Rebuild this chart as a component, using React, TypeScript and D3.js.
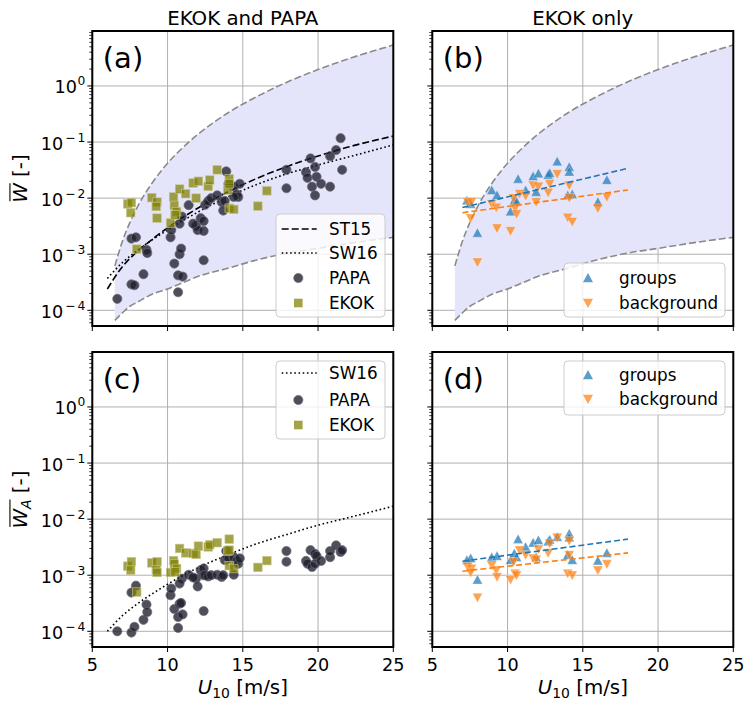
import React from 'react';
import * as d3 from 'd3';

// ---------- data ----------
const xTicks = [5, 10, 15, 20, 25];
const yMajorTicks = [1e-4, 1e-3, 1e-2, 1e-1, 1];
const yTickExponents = ['\u22124', '\u22123', '\u22122', '\u22121', '0'];
const xDomain = [5, 25];
const yDomain = [5.25e-5, 9.55];

// envelope (shaded region) boundaries
const boundU = [6.5, 7, 7.5, 8, 9, 10, 11, 12, 14, 16, 18, 20, 22, 25];
const boundUpper = [6.2e-4, 1.7e-3, 3.7e-3, 7.0e-3, 0.019, 0.042, 0.079, 0.136, 0.33, 0.66, 1.19, 1.96, 3.04, 5.37];
const boundLower = [6.6e-5, 9.0e-5, 1.18e-4, 1.4e-4, 1.95e-4, 2.4e-4, 3.1e-4, 4.0e-4, 5.6e-4, 8.0e-4, 1.05e-3, 1.27e-3, 1.55e-3, 2.0e-3];

// parameterisations
const st15U = [6, 7, 8, 9, 10, 12, 14, 16, 18, 20, 22, 25];
const st15W = [2.4e-4, 6.0e-4, 1.12e-3, 1.86e-3, 2.95e-3, 6.6e-3, 0.0129, 0.0229, 0.0372, 0.0562, 0.0813, 0.128];
const sw16U = [6, 7, 8, 9, 10, 12, 14, 16, 18, 20, 22, 25];
const sw16W = [3.7e-4, 7.1e-4, 1.17e-3, 1.82e-3, 2.7e-3, 5.6e-3, 0.0105, 0.0178, 0.0275, 0.039, 0.054, 0.089];
const sw16AU = [6, 7, 8, 9, 10, 12, 14, 16, 18, 20, 22, 25];
const sw16WA = [1.0e-4, 1.9e-4, 3.1e-4, 4.7e-4, 6.9e-4, 1.35e-3, 2.3e-3, 3.7e-3, 5.4e-3, 7.8e-3, 1.06e-2, 1.7e-2];

// PAPA
const papaU = [6.66, 7.6, 7.9, 7.6, 7.8, 8.4, 8.6, 8.65, 10.2, 10.25, 10.45, 10.7, 11.0, 10.7, 10.8, 10.9, 10.95, 10.8, 11.4, 11.9, 12.0, 11.7, 12.2, 12.4, 12.4, 12.4, 12.5, 12.7, 12.9, 13.3, 13.6, 13.7, 13.9, 13.8, 14.05, 14.4, 14.6, 14.7, 14.4, 14.8, 17.9, 17.9, 19.2, 19.3, 19.5, 19.6, 19.8, 19.9, 19.8, 20.2, 20.8, 20.8, 21.2, 21.5, 21.6];
const papaW = [1.6e-4, 1.9e-3, 2.0e-3, 2.9e-4, 2.8e-4, 4.4e-4, 1.2e-3, 1.05e-3, 2.0e-3, 2.7e-3, 6.8e-4, 4.2e-4, 4.0e-4, 2.1e-4, 1.0e-3, 1.26e-3, 4.7e-3, 3.5e-3, 7.5e-3, 3.2e-3, 2.7e-3, 3.5e-3, 4.4e-3, 3.9e-3, 2.6e-3, 7.8e-4, 7.6e-3, 8.9e-3, 1.0e-2, 1.12e-2, 8.5e-3, 6.0e-3, 3.0e-2, 8.9e-3, 1.8e-2, 1.6e-2, 1.17e-2, 1.05e-2, 1.05e-2, 1.8e-2, 3.2e-2, 1.5e-2, 2.9e-2, 2.3e-2, 5.1e-2, 1.6e-2, 3.6e-2, 2.4e-2, 1.12e-2, 1.8e-2, 1.6e-2, 5.6e-2, 7.2e-2, 0.117, 3.2e-2];
const papaWA = [1.0e-4, 4.9e-4, 6.5e-4, 9.5e-5, 1.2e-4, 1.6e-4, 3.0e-4, 2.2e-4, 4.4e-4, 5.8e-4, 2.5e-4, 1.8e-4, 2.0e-4, 1.15e-4, 3.1e-4, 3.2e-4, 8.7e-4, 7.1e-4, 1.02e-3, 8.7e-4, 6.3e-4, 9.1e-4, 1.23e-3, 1.32e-3, 1.0e-3, 2.3e-4, 1.0e-3, 9.5e-4, 1.0e-3, 1.02e-3, 9.3e-4, 1.0e-3, 2.7e-3, 1.86e-3, 2.0e-3, 2.1e-3, 1.8e-3, 1.6e-3, 1.02e-3, 2.0e-3, 2.7e-3, 1.74e-3, 1.8e-3, 1.6e-3, 2.8e-3, 1.4e-3, 2.4e-3, 2.2e-3, 1.6e-3, 1.8e-3, 2.1e-3, 2.7e-3, 3.4e-3, 2.6e-3, 2.8e-3];

// EKOK
const ekokU = [7.35, 7.6, 7.55, 7.95, 8.95, 9.3, 9.25, 9.3, 10.2, 10.4, 10.45, 10.6, 10.5, 10.8, 11.2, 11.7, 12.05, 11.9, 12.7, 12.8, 13.3, 14.0, 14.1, 14.1, 14.1, 14.4, 16.0, 16.6];
const ekokW = [7.9e-3, 8.3e-3, 5.5e-3, 1.23e-3, 1.02e-2, 8.5e-3, 7.1e-3, 4.4e-3, 3.6e-3, 1.05e-2, 7.4e-3, 5.75e-3, 5.0e-3, 1.45e-2, 1.2e-2, 1.86e-2, 2.0e-2, 1.0e-2, 1.62e-2, 2.1e-2, 3.2e-2, 1.4e-2, 2.2e-2, 1.8e-2, 6.6e-3, 6.3e-3, 7.2e-3, 1.35e-2];
const ekokWA = [1.45e-3, 1.74e-3, 1.23e-3, 5.0e-4, 1.66e-3, 1.74e-3, 1.26e-3, 1.12e-3, 1.12e-3, 1.82e-3, 1.58e-3, 1.32e-3, 1.15e-3, 3.0e-3, 2.5e-3, 2.45e-3, 3.3e-3, 2.35e-3, 3.2e-3, 3.5e-3, 3.8e-3, 2.7e-3, 4.4e-3, 2.8e-3, 1.48e-3, 1.32e-3, 1.38e-3, 1.82e-3];

// EKOK groups / background
const groupsU = [7.3, 7.55, 8.0, 8.95, 9.3, 10.2, 10.45, 10.7, 10.6, 11.2, 11.7, 12.05, 11.9, 12.7, 12.8, 13.3, 14.1, 14.1, 14.0, 14.3, 16.0, 16.6];
const groupsW = [9.1e-3, 7.9e-3, 2.4e-3, 1.38e-2, 1.12e-2, 5.75e-3, 9.1e-3, 2.2e-2, 8.7e-3, 1.38e-2, 2.45e-2, 2.75e-2, 1.29e-2, 2.6e-2, 2.8e-2, 4.5e-2, 3.6e-2, 2.95e-2, 1.12e-2, 1.17e-2, 8.5e-3, 2.1e-2];
const groupsWA = [1.86e-3, 2.0e-3, 8.3e-4, 2.1e-3, 2.2e-3, 1.86e-3, 2.45e-3, 4.4e-3, 2.1e-3, 3.2e-3, 3.8e-3, 4.2e-3, 2.1e-3, 4.0e-3, 4.3e-3, 4.8e-3, 5.5e-3, 4.7e-3, 2.3e-3, 1.86e-3, 1.82e-3, 2.5e-3];
const bgU = [7.35, 7.6, 7.55, 8.0, 8.95, 9.25, 9.3, 10.2, 10.4, 10.5, 10.6, 10.8, 11.2, 11.7, 12.05, 11.9, 12.7, 12.8, 13.3, 14.0, 14.3, 14.1, 14.1, 16.0, 16.6];
const bgW = [8.5e-3, 8.5e-3, 4.4e-3, 7.2e-4, 7.9e-3, 6.8e-3, 2.9e-3, 2.6e-3, 1.0e-2, 6.6e-3, 5.2e-3, 1.2e-2, 1.1e-2, 1.7e-2, 1.62e-2, 8.5e-3, 1.26e-2, 1.8e-2, 2.7e-2, 4.5e-3, 3.8e-3, 1.02e-2, 1.7e-2, 6.6e-3, 1.05e-2];
const bgWA = [1.41e-3, 1.32e-3, 1.12e-3, 4.0e-4, 1.51e-3, 1.23e-3, 9.3e-4, 8.3e-4, 1.74e-3, 1.07e-3, 1.0e-3, 2.8e-3, 2.3e-3, 2.0e-3, 2.9e-3, 1.9e-3, 2.5e-3, 3.7e-3, 4.7e-3, 1.07e-3, 1.0e-3, 2.3e-3, 4.1e-3, 1.23e-3, 1.58e-3];

// linear fits (log W vs U)
const fitU = [7.0, 18.0];
const groupsFitW = [6.8e-3, 3.4e-2];
const bgFitW = [5.5e-3, 1.4e-2];
const groupsFitWA = [1.78e-3, 4.4e-3];
const bgFitWA = [1.18e-3, 2.5e-3];

// ---------- styling ----------
const FONT = 'DejaVu Sans, sans-serif';
const PW = 301;
const PH = 295;
const PX = [92.3, 432.3];
const PY = [31, 352];
const BLUE = '#1f77b4';
const ORANGE = '#ff7f0e';
const FILLC = '#e4e4fb';
const TICKFS = 17.6;
const LABELFS = 19.8;
const SUBFS = 13.9;
const LEGFS = 16.8;

const zip = (a: number[], b: number[]) => a.map((v, i) => [v, b[i]] as [number, number]);

function triUp(s: number) {
  return `M0,${-s}L${s},${s * 0.85}L${-s},${s * 0.85}Z`;
}
function triDown(s: number) {
  return `M0,${s}L${s},${-s * 0.85}L${-s},${-s * 0.85}Z`;
}

type PanelProps = {
  px: number; py: number; label: string; id: string;
  showYLabels: boolean; showXLabels: boolean;
  children: (x: d3.ScaleLinear<number, number>, y: d3.ScaleLogarithmic<number, number>) => React.ReactNode;
};

function Panel({ px, py, label, id, showYLabels, showXLabels, children }: PanelProps) {
  const x = d3.scaleLinear().domain(xDomain).range([0, PW]);
  const y = d3.scaleLog().domain(yDomain).range([PH, 0]);
  const allY = y.ticks();
  const isMajor = (v: number) => Math.abs(Math.log10(v) - Math.round(Math.log10(v))) < 1e-9;
  return (
    <g transform={`translate(${px},${py})`}>
      <defs>
        <clipPath id={id}><rect x={0} y={0} width={PW} height={PH} /></clipPath>
      </defs>
      {xTicks.map((t) => (
        <line key={'gx' + t} x1={x(t)} x2={x(t)} y1={0} y2={PH} stroke="#b0b0b0" strokeWidth={1} />
      ))}
      {yMajorTicks.map((t) => (
        <line key={'gy' + t} x1={0} x2={PW} y1={y(t)} y2={y(t)} stroke="#b0b0b0" strokeWidth={1} />
      ))}
      <g clipPath={`url(#${id})`}>{children(x, y)}</g>
      <text x={10.5} y={37} fontSize={29} fontFamily={FONT} fill="#000">{label}</text>
      {allY.map((t, i) => (
        <line key={'yt' + i} x1={0} x2={isMajor(t) ? -5 : -3} y1={y(t)} y2={y(t)} stroke="#000" strokeWidth={isMajor(t) ? 1 : 0.8} />
      ))}
      {showYLabels && yMajorTicks.map((t, i) => (
        <text key={'yl' + i} x={-7} y={y(t) + 7.5} textAnchor="end" fontFamily={FONT} fontSize={TICKFS} fill="#000">
          10<tspan dy={-8} dx={yTickExponents[i].length > 1 ? 2 : 0.5} fontSize={12.3}>{yTickExponents[i].length > 1 ? yTickExponents[i][0] : yTickExponents[i]}</tspan>
          {yTickExponents[i].length > 1 && <tspan dx={2} fontSize={12.3}>{yTickExponents[i].slice(1)}</tspan>}
        </text>
      ))}
      {xTicks.map((t) => (
        <line key={'xt' + t} x1={x(t)} x2={x(t)} y1={PH} y2={PH + 5} stroke="#000" strokeWidth={1} />
      ))}
      {showXLabels && xTicks.map((t) => (
        <text key={'xl' + t} x={x(t)} y={PH + 24} textAnchor="middle" fontFamily={FONT} fontSize={TICKFS} fill="#000">{t}</text>
      ))}
      {showXLabels && (
        <text x={PW / 2} y={PH + 47} textAnchor="middle" fontFamily={FONT} fontSize={LABELFS} fill="#000">
          <tspan fontStyle="italic">U</tspan><tspan fontSize={SUBFS} dy={4}>10</tspan><tspan dy={-4}> [m/s]</tspan>
        </text>
      )}
      <rect x={0} y={0} width={PW} height={PH} fill="none" stroke="#000" strokeWidth={2} />
    </g>
  );
}

function YLabel({ cx, cy, sub }: { cx: number; cy: number; sub: string }) {
  // widths from DejaVu Sans metrics
  const wW = 0.989 * LABELFS;
  const wSub = sub ? 0.684 * SUBFS : 0;
  const wRest = 1.459 * LABELFS;
  const total = wW + wSub + wRest;
  const x0 = -total / 2;
  const olY = -0.76 * LABELFS - 2;
  return (
    <g transform={`translate(${cx},${cy}) rotate(-90)`}>
      <text x={x0} y={0} fontFamily={FONT} fontSize={LABELFS} fill="#000">
        <tspan fontStyle="italic">W</tspan>
        {sub && <tspan fontStyle="italic" fontSize={SUBFS} dy={4}>{sub}</tspan>}
        <tspan dy={sub ? -4 : 0}> [-]</tspan>
      </text>
      <line x1={x0 + 1.5} x2={x0 + wW + wSub} y1={olY} y2={olY} stroke="#000" strokeWidth={1.1} />
    </g>
  );
}

function Envelope({ x, y }: { x: any; y: any }) {
  const pts = boundU.map((u, i) => ({ u, lo: boundLower[i], hi: boundUpper[i] }));
  const area = d3.area<any>().x((d) => x(d.u)).y0((d) => y(d.lo)).y1((d) => y(d.hi)).curve(d3.curveMonotoneX);
  const lineHi = d3.line<any>().x((d) => x(d.u)).y((d) => y(d.hi)).curve(d3.curveMonotoneX);
  const lineLo = d3.line<any>().x((d) => x(d.u)).y((d) => y(d.lo)).curve(d3.curveMonotoneX);
  return (
    <g>
      <path d={area(pts) || ''} fill={FILLC} />
      <path d={lineHi(pts) || ''} fill="none" stroke="#8a8a8a" strokeWidth={1.6} strokeDasharray="7,3" />
      <path d={lineLo(pts) || ''} fill="none" stroke="#8a8a8a" strokeWidth={1.6} strokeDasharray="7,3" />
    </g>
  );
}

function curvePath(x: any, y: any, us: number[], ws: number[]) {
  const l = d3.line<[number, number]>().x((d) => x(d[0])).y((d) => y(d[1])).curve(d3.curveMonotoneX);
  return l(zip(us, ws)) || '';
}

function Papa({ x, y, ws }: { x: any; y: any; ws: number[] }) {
  return (
    <g>
      {papaU.map((u, i) => (
        <circle key={'p' + i} cx={x(u)} cy={y(ws[i])} r={4.6} fill="#1e1e2c" fillOpacity={0.78} stroke="#6a6a78" strokeWidth={0.7} />
      ))}
    </g>
  );
}
function Ekok({ x, y, ws }: { x: any; y: any; ws: number[] }) {
  return (
    <g>
      {ekokU.map((u, i) => (
        <rect key={'e' + i} x={x(u) - 4.3} y={y(ws[i]) - 4.3} width={8.6} height={8.6} fill="#808000" fillOpacity={0.72} stroke="#c8c890" strokeWidth={0.6} />
      ))}
    </g>
  );
}
function Tri({ x, y, us, ws, up, color }: { x: any; y: any; us: number[]; ws: number[]; up: boolean; color: string }) {
  return (
    <g>
      {us.map((u, i) => (
        <path key={'t' + i} transform={`translate(${x(u)},${y(ws[i])})`} d={up ? triUp(5) : triDown(5)} fill={color} fillOpacity={0.72} stroke="#ffffff" strokeOpacity={0.6} strokeWidth={0.5} />
      ))}
    </g>
  );
}

function LegendBox({ x0, y0, x1, y1 }: { x0: number; y0: number; x1: number; y1: number }) {
  return <rect x={x0} y={y0} width={x1 - x0} height={y1 - y0} rx={4} fill="#fff" fillOpacity={0.8} stroke="#cccccc" strokeWidth={1} />;
}

function LegendText({ x, y, t }: { x: number; y: number; t: string }) {
  return <text x={x} y={y + 6} fontFamily={FONT} fontSize={LEGFS} fill="#000">{t}</text>;
}

export default function App() {
  return (
    <svg width={754} height={701} style={{ position: 'absolute', left: 0, top: 0, background: '#fff' }} xmlns="http://www.w3.org/2000/svg">
      <rect x={0} y={0} width={754} height={701} fill="#fff" />
      <text x={PX[0] + PW / 2} y={24.5} textAnchor="middle" fontFamily={FONT} fontSize={LABELFS} fill="#000">EKOK and PAPA</text>
      <text x={PX[1] + PW / 2} y={24.5} textAnchor="middle" fontFamily={FONT} fontSize={LABELFS} fill="#000">EKOK only</text>
      <YLabel cx={27} cy={PY[0] + PH / 2} sub="" />
      <YLabel cx={27} cy={PY[1] + PH / 2} sub="A" />

      <Panel px={PX[0]} py={PY[0]} label="(a)" id="clipA" showYLabels={true} showXLabels={false}>
        {(x, y) => (
          <g>
            <Envelope x={x} y={y} />
            <path d={curvePath(x, y, st15U, st15W)} fill="none" stroke="#000" strokeWidth={1.6} strokeDasharray="7,3" />
            <path d={curvePath(x, y, sw16U, sw16W)} fill="none" stroke="#000" strokeWidth={1.6} strokeDasharray="1.6,2.6" />
            <Papa x={x} y={y} ws={papaW} />
            <Ekok x={x} y={y} ws={ekokW} />
            <LegendBox x0={183.7} y0={183} x1={292.7} y1={286} />
            <line x1={189.4} x2={224.4} y1={198} y2={198} stroke="#000" strokeWidth={1.6} strokeDasharray="7,3" />
            <line x1={189.4} x2={224.4} y1={222} y2={222} stroke="#000" strokeWidth={1.6} strokeDasharray="1.6,2.6" />
            <circle cx={206} cy={247} r={4.6} fill="#1e1e2c" fillOpacity={0.78} stroke="#6a6a78" strokeWidth={0.7} />
            <rect x={206 - 4.3} y={272 - 4.3} width={8.6} height={8.6} fill="#808000" fillOpacity={0.72} />
            <LegendText x={236.7} y={198} t="ST15" />
            <LegendText x={236.7} y={222} t="SW16" />
            <LegendText x={236.7} y={247} t="PAPA" />
            <LegendText x={236.7} y={272} t="EKOK" />
          </g>
        )}
      </Panel>

      <Panel px={PX[1]} py={PY[0]} label="(b)" id="clipB" showYLabels={false} showXLabels={false}>
        {(x, y) => (
          <g>
            <Envelope x={x} y={y} />
            <Tri x={x} y={y} us={groupsU} ws={groupsW} up={true} color={BLUE} />
            <Tri x={x} y={y} us={bgU} ws={bgW} up={false} color={ORANGE} />
            <path d={curvePath(x, y, fitU, groupsFitW)} fill="none" stroke={BLUE} strokeWidth={1.6} strokeDasharray="6,3" />
            <path d={curvePath(x, y, fitU, bgFitW)} fill="none" stroke={ORANGE} strokeWidth={1.6} strokeDasharray="6,3" />
            <LegendBox x0={131.7} y0={232} x1={292.7} y1={286} />
            <path transform="translate(155.7,247)" d={triUp(5)} fill={BLUE} fillOpacity={0.72} />
            <path transform="translate(155.7,272)" d={triDown(5)} fill={ORANGE} fillOpacity={0.72} />
            <LegendText x={186.7} y={247} t="groups" />
            <LegendText x={186.7} y={272} t="background" />
          </g>
        )}
      </Panel>

      <Panel px={PX[0]} py={PY[1]} label="(c)" id="clipC" showYLabels={true} showXLabels={true}>
        {(x, y) => (
          <g>
            <path d={curvePath(x, y, sw16AU, sw16WA)} fill="none" stroke="#000" strokeWidth={1.6} strokeDasharray="1.6,2.6" />
            <Papa x={x} y={y} ws={papaWA} />
            <Ekok x={x} y={y} ws={ekokWA} />
            <LegendBox x0={183.7} y0={9} x1={292.7} y1={87} />
            <line x1={189.4} x2={224.4} y1={21} y2={21} stroke="#000" strokeWidth={1.6} strokeDasharray="1.6,2.6" />
            <circle cx={206} cy={48} r={4.6} fill="#1e1e2c" fillOpacity={0.78} stroke="#6a6a78" strokeWidth={0.7} />
            <rect x={206 - 4.3} y={73 - 4.3} width={8.6} height={8.6} fill="#808000" fillOpacity={0.72} />
            <LegendText x={236.7} y={21} t="SW16" />
            <LegendText x={236.7} y={48} t="PAPA" />
            <LegendText x={236.7} y={73} t="EKOK" />
          </g>
        )}
      </Panel>

      <Panel px={PX[1]} py={PY[1]} label="(d)" id="clipD" showYLabels={false} showXLabels={true}>
        {(x, y) => (
          <g>
            <Tri x={x} y={y} us={groupsU} ws={groupsWA} up={true} color={BLUE} />
            <Tri x={x} y={y} us={bgU} ws={bgWA} up={false} color={ORANGE} />
            <path d={curvePath(x, y, fitU, groupsFitWA)} fill="none" stroke={BLUE} strokeWidth={1.6} strokeDasharray="6,3" />
            <path d={curvePath(x, y, fitU, bgFitWA)} fill="none" stroke={ORANGE} strokeWidth={1.6} strokeDasharray="6,3" />
            <LegendBox x0={131.7} y0={9} x1={292.7} y1={63} />
            <path transform="translate(155.7,23)" d={triUp(5)} fill={BLUE} fillOpacity={0.72} />
            <path transform="translate(155.7,47)" d={triDown(5)} fill={ORANGE} fillOpacity={0.72} />
            <LegendText x={186.7} y={23} t="groups" />
            <LegendText x={186.7} y={47} t="background" />
          </g>
        )}
      </Panel>
    </svg>
  );
}
